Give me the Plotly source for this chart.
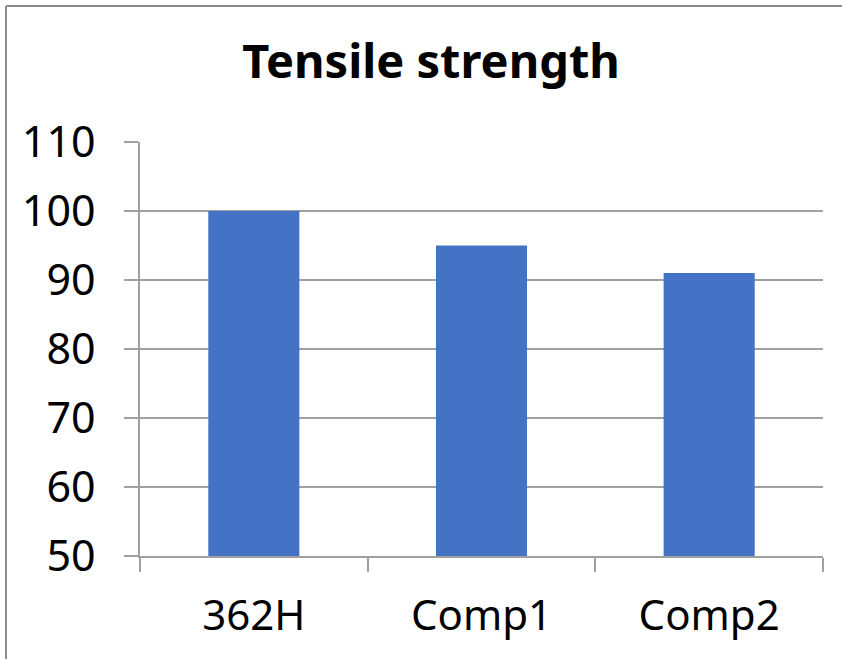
import plotly.graph_objects as go

categories = ["362H", "Comp1", "Comp2"]
values = [100, 95, 91]
title_text = "Tensile strength"

W, H = 842, 659
L, R, T, B = 140, 19, 142, 103
PW, PH = W - L - R, H - T - B

fig = go.Figure(go.Bar(x=categories, y=values, marker=dict(color="#4472C4", line=dict(width=0)), width=0.4))

grid = "#a0a0a0"
bx0 = (6 - L) / PW
bx1 = (W + 50 - L) / PW
by0 = -(H + 50 - (H - B)) / PH
by1 = 1 + (T - 6) / PH
border = dict(color="#8c8c8c", width=2)
fig.update_layout(
    width=W, height=H,
    margin=dict(l=L, r=R, t=T, b=B),
    paper_bgcolor="white", plot_bgcolor="white",
    showlegend=False,
    font=dict(family="Noto Sans", color="black"),
    title=dict(text="<b>" + title_text + "</b>", x=431 / W, xanchor="center",
               y=1 - 62 / H, yanchor="middle", font=dict(size=47, family="Noto Sans")),
    xaxis=dict(type="category", tickson="boundaries", ticks="outside", ticklen=14, tickcolor=grid,
               tickwidth=1.5, showline=True, linecolor=grid, linewidth=1.5, showgrid=False,
               tickfont=dict(size=42), ticklabelstandoff=22),
    yaxis=dict(range=[50, 110], dtick=10, tick0=50, ticks="outside", ticklen=14, tickcolor=grid,
               tickwidth=1.5, showline=True, linecolor=grid, linewidth=1.5, showgrid=True,
               gridcolor=grid, gridwidth=1.5, tickfont=dict(size=43), ticklabelstandoff=20,
               zeroline=False),
    shapes=[
        dict(type="line", xref="paper", yref="paper", x0=bx0, x1=bx1, y0=by1, y1=by1, line=border, layer="below"),
        dict(type="line", xref="paper", yref="paper", x0=bx0, x1=bx0, y0=by0, y1=by1, line=border, layer="below"),
    ],
)

fig.write_html("out.html", config={"displayModeBar": False},
               post_script="document.body.style.margin='0';document.body.style.overflow='hidden';")
